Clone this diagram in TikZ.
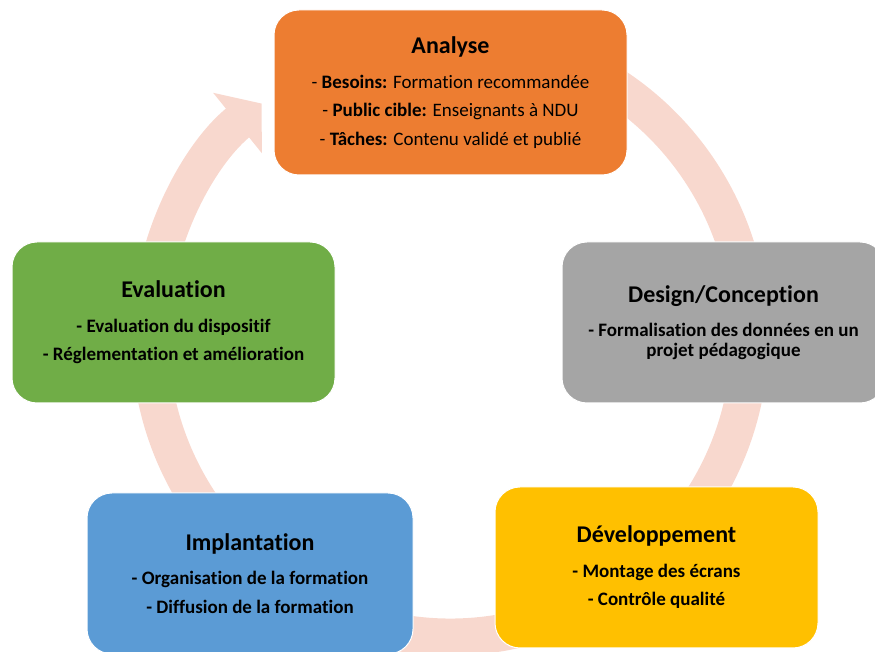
\documentclass[tikz,border=0pt]{standalone}
\usepackage{fontspec}
\setmainfont{Carlito}[Ligatures=NoCommon]
\usetikzlibrary{arrows.meta}
\definecolor{anaorange}{HTML}{ED7D31}
\definecolor{desgray}{HTML}{A5A5A5}
\definecolor{devyellow}{HTML}{FFC000}
\definecolor{impblue}{HTML}{5B9BD5}
\definecolor{evagreen}{HTML}{70AD47}
\definecolor{ringpink}{HTML}{F8D8CE}
\newcommand{\phasetitle}[1]{{\fontsize{24}{28}\selectfont\bfseries #1}}

\begin{document}
\begin{tikzpicture}[x=1pt, y=1pt, line join=round,
	phase/.style={draw=white, line width=1pt, rounded corners=25pt, align=center,
		minimum width=323pt, minimum height=161pt, inner sep=0pt,
		font=\fontsize{19}{20}\selectfont\bfseries},
	ring/.style={draw=ringpink, line width=37pt, -{Triangle[width=76pt,length=31pt]}}
	]
	%	\draw[gray!10] (0,0) grid[step=50] (875,652);
	\useasboundingbox (0,0) rectangle (875,652);
	\coordinate (ringc) at (450,315);
	\draw[ring] ([shift={(80:300)}]ringc) arc[start angle=80, end angle=-231.1, radius=300];
	\node[phase, fill=anaorange, minimum width=353pt, minimum height=165pt,
		font=\fontsize{19}{20}\selectfont] (analyse) at (450.5,559.5)
		{\phasetitle{Analyse}\\[14.5pt]
		- \textbf{Besoins:} Formation recommandée\\[8.5pt]
		- \textbf{Public cible:} Enseignants à NDU\\[8.5pt]
		- \textbf{Tâches:} Contenu validé et publié};
	\node[phase, fill=desgray] (design) at (723.5,329.5)
		{\phasetitle{Design/Conception}\\[14.5pt]
		- Formalisation des données en un\\
		projet pédagogique};
	\node[phase, fill=devyellow] (devel) at (656.5,84.5)
		{\phasetitle{Développement}\\[14.5pt]
		- Montage des écrans\\[8.5pt]
		- Contrôle qualité};
	\node[phase, fill=impblue, minimum width=326pt] (implant) at (250,78.5)
		{\phasetitle{Implantation}\\[14.5pt]
		- Organisation de la formation\\[8.5pt]
		- Diffusion de la formation};
	\node[phase, fill=evagreen] (evalu) at (173.5,329.5)
		{\phasetitle{Evaluation}\\[14.5pt]
		- Evaluation du dispositif\\[8.5pt]
		- Réglementation et amélioration};
\end{tikzpicture}
\end{document}
